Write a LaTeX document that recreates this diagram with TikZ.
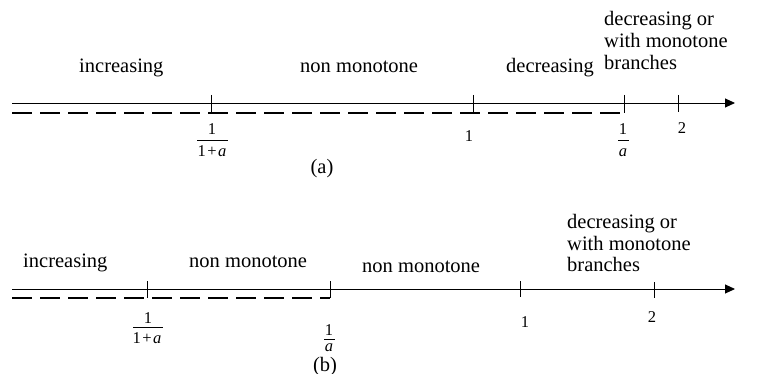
\documentclass[tikz,border=0pt]{standalone}
\usepackage{fontspec}
\setmainfont{Liberation Serif}
\usetikzlibrary{arrows.meta}
\tikzset{
  lbl/.style={inner sep=0pt, anchor=base west, font=\fontsize{20.5}{22}\selectfont},
  figcap/.style={inner sep=0pt, anchor=base, font=\fontsize{20.5}{22}\selectfont},
  num/.style={inner sep=0pt, anchor=base, font=\fontsize{16.5}{18}\selectfont},
  axis/.style={line width=0.9pt, -{Triangle[length=10pt,width=9pt]}},
  dsh/.style={line width=2.6pt, dash pattern=on 20pt off 8pt},
  tck/.style={line width=0.9pt},
  fbar/.style={line width=0.8pt}
}
\begin{document}
\begin{tikzpicture}[x=1pt,y=-1pt]
\useasboundingbox (0,0) rectangle (770,374);
% ---------- (a) ----------
\coordinate (aS) at (12,103);
\coordinate (aE) at (735,103);
\coordinate (aDS) at (12,113);
\coordinate (aDE) at (624,113);
\draw[dsh] (aDS) -- (aDE);
\draw[axis] (aS) -- (aE);
\coordinate (at1t) at (211,95); \coordinate (at1b) at (211,113);
\coordinate (at2t) at (473,95); \coordinate (at2b) at (473,113);
\coordinate (at3t) at (624,95); \coordinate (at3b) at (624,113);
\coordinate (at4t) at (678,95); \coordinate (at4b) at (678,112);
\draw[tck] (at1t) -- (at1b);
\draw[tck] (at2t) -- (at2b);
\draw[tck] (at3t) -- (at3b);
\draw[tck] (at4t) -- (at4b);
\node[lbl] (aInc) at (79,73) {increasing};
\node[lbl] (aNon) at (300,73) {non monotone};
\node[lbl] (aDec) at (506,73) {decreasing};
\node[lbl] (aR1) at (604,26) {decreasing or};
\node[lbl] (aR2) at (604,48) {with monotone};
\node[lbl] (aR3) at (604,70) {branches};
% fraction 1/(1+a)
\node[num] (aF1n) at (212,135) {1};
\coordinate (aF1l) at (197,140); \coordinate (aF1r) at (228,140);
\draw[fbar] (aF1l) -- (aF1r);
\node[num] (aF1d) at (212,157) {1\kern1.5pt+\kern1.5pt\textit{a}};
\node[num] (aF2) at (469,142) {1};
% fraction 1/a
\node[num] (aF3n) at (623,135) {1};
\coordinate (aF3l) at (618,140); \coordinate (aF3r) at (629,140);
\draw[fbar] (aF3l) -- (aF3r);
\node[num] (aF3d) at (623,157) {\textit{a}};
\node[num] (aF4) at (682,134) {2};
\node[figcap] (aCap) at (322,173) {(a)};
% ---------- (b) ----------
\coordinate (bS) at (12,289);
\coordinate (bE) at (735,289);
\coordinate (bDS) at (12,298);
\coordinate (bDE) at (330,298);
\draw[dsh] (bDS) -- (bDE);
\draw[axis] (bS) -- (bE);
\coordinate (bt1t) at (147,281); \coordinate (bt1b) at (147,298);
\coordinate (bt2t) at (330,281); \coordinate (bt2b) at (330,298);
\coordinate (bt3t) at (520,281); \coordinate (bt3b) at (520,297);
\coordinate (bt4t) at (654,282); \coordinate (bt4b) at (654,298);
\draw[tck] (bt1t) -- (bt1b);
\draw[tck] (bt2t) -- (bt2b);
\draw[tck] (bt3t) -- (bt3b);
\draw[tck] (bt4t) -- (bt4b);
\node[lbl] (bInc) at (23,267) {increasing};
\node[lbl] (bNon) at (189,267) {non monotone};
\node[lbl] (bNon2) at (362,272) {non monotone};
\node[lbl] (bR1) at (567,228) {decreasing or};
\node[lbl] (bR2) at (567,250) {with monotone};
\node[lbl] (bR3) at (567,271) {branches};
% fraction 1/(1+a)
\node[num] (bF1n) at (148,323) {1};
\coordinate (bF1l) at (133,327); \coordinate (bF1r) at (163,327);
\draw[fbar] (bF1l) -- (bF1r);
\node[num] (bF1d) at (147,343) {1\kern1.5pt+\kern1.5pt\textit{a}};
% fraction 1/a
\node[num] (bF2n) at (329,335) {1};
\coordinate (bF2l) at (324,339); \coordinate (bF2r) at (335,339);
\draw[fbar] (bF2l) -- (bF2r);
\node[num] (bF2d) at (329,351) {\textit{a}};
\node[num] (bF3) at (525,327) {1};
\node[num] (bF4) at (652,322) {2};
\node[figcap] (bCap) at (325,371) {(b)};
\end{tikzpicture}
\end{document}
